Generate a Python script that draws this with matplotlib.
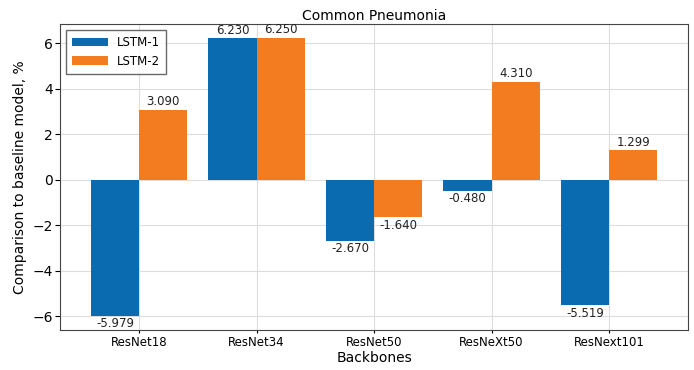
import matplotlib.pyplot as plt
import numpy as np

backbones = ["ResNet18", "ResNet34", "ResNet50", "ResNeXt50", "ResNext101"]
lstm1 = [-5.979, 6.230, -2.670, -0.480, -5.519]
lstm2 = [3.090, 6.250, -1.640, 4.310, 1.299]

x = np.arange(len(backbones))
w = 0.41

fig = plt.figure(figsize=(6.94, 3.70), dpi=100)
ax = fig.add_axes([0.087, 0.108, 0.904, 0.827])
b1 = ax.bar(x - w / 2, lstm1, w, color="#0a6bb0", label="LSTM-1", zorder=3)
b2 = ax.bar(x + w / 2, lstm2, w, color="#f27c1f", label="LSTM-2", zorder=3)
for bars in (b1, b2):
    ax.bar_label(bars, fmt="%.3f", fontsize=8.5, padding=1, color="#222222")

ax.set_xticks(x)
ax.set_xticklabels(backbones, fontsize=8.5)
ax.tick_params(axis="x", pad=2, length=2)
ax.tick_params(axis="y", labelsize=10, pad=2)
ax.set_xlim(-0.67, 4.67)
ax.set_ylim(-6.6, 6.85)
ax.set_yticks([-6, -4, -2, 0, 2, 4, 6])
ax.grid(True, color="#dddddd", zorder=0)
ax.set_axisbelow(True)
for s in ax.spines.values():
    s.set_color("#444444")
ax.set_title("Common Pneumonia", fontsize=10, pad=3)
ax.set_xlabel("Backbones", fontsize=10, labelpad=2)
ax.set_ylabel("Comparison to baseline model, %", fontsize=10)
ax.legend(loc="upper left", fontsize=8.5, fancybox=False, edgecolor="#444444",
          handlelength=3, borderpad=0.5)

plt.savefig("out.png")
